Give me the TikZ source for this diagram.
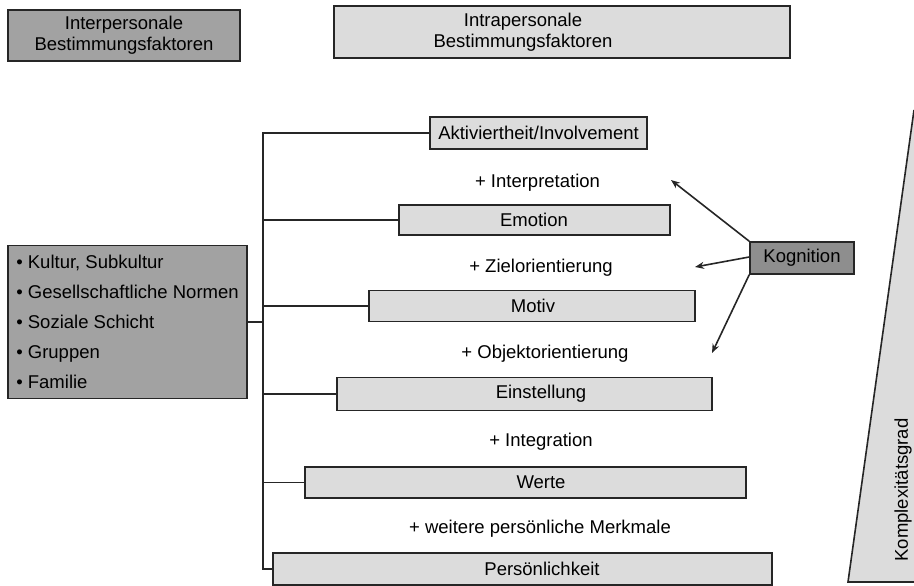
\documentclass[tikz,border=0pt]{standalone}
\usepackage{fontspec}
\setmainfont{Liberation Sans}
\usetikzlibrary{arrows.meta}
\definecolor{darkbox}{HTML}{A2A2A2}
\definecolor{kogbox}{HTML}{8E8E8E}
\definecolor{lightbox}{HTML}{DCDCDC}
\definecolor{edge}{HTML}{262626}
\tikzset{
  every node/.style={font=\fontsize{18.5}{21}\selectfont},
  darkrect/.style={draw=edge, line width=1.6pt, fill=darkbox, inner sep=0pt},
  lightrect/.style={draw=edge, line width=1.6pt, fill=lightbox, inner sep=0pt},
  lbl/.style={inner sep=0pt},
  conn/.style={draw=edge, line width=1.8pt},
  arr/.style={draw=edge, line width=1.6pt, -{Stealth[length=9pt,width=7pt]}}
}
\begin{document}
\begin{tikzpicture}[x=1pt,y=-1pt]
\useasboundingbox (0,0) rectangle (914,586);
% triangle
\path[fill=lightbox] (914,110) -- (848,582) -- (914,582) -- cycle;
\draw[edge, line width=1.6pt] (914,110) -- (848,582) -- (914,582);
\node[lbl, rotate=90] (komp) at (903,490) {Komplexitätsgrad};
% headers
\node[darkrect, minimum width=232pt, minimum height=51pt, align=center] (inter) at (124,35.5) {Interpersonale\\Bestimmungsfaktoren};
\node[lightrect, minimum width=456pt, minimum height=52pt] (intra) at (562,32) {};
\node[lbl, align=center] (intratxt) at (523,32) {Intrapersonale\\Bestimmungsfaktoren};
% left box
\node[darkrect, minimum width=239pt, minimum height=153pt, align=left,
      font=\fontsize{18.5}{30}\selectfont] (kultur) at (127.5,322)
  {\textbullet\ Kultur, Subkultur\\\textbullet\ Gesellschaftliche Normen\\\textbullet\ Soziale Schicht\\\textbullet\ Gruppen\\\textbullet\ Familie};
% stack boxes
\node[lightrect, minimum width=217pt, minimum height=32pt] (akt) at (538.5,133) {Aktiviertheit/Involvement};
\node[lightrect, minimum width=271pt, minimum height=30pt] (emo) at (534.5,220) {};
\node[lbl] (emotxt) at (534,220) {Emotion};
\node[lightrect, minimum width=326pt, minimum height=31pt] (motiv) at (532,306) {};
\node[lbl] (motivtxt) at (533,306) {Motiv};
\node[lightrect, minimum width=375pt, minimum height=33pt] (einst) at (524.5,394) {};
\node[lbl] (einsttxt) at (541,394) {Einstellung};
\node[lightrect, minimum width=441pt, minimum height=31pt] (werte) at (525.5,482.5) {};
\node[lbl] (wertetxt) at (541,482.5) {Werte};
\node[lightrect, minimum width=499pt, minimum height=32pt] (pers) at (522.5,569) {};
\node[lbl] (perstxt) at (542,569) {Persönlichkeit};
% step labels
\node[lbl] (l1) at (537.5,183) {+ Interpretation};
\node[lbl] (l2) at (541,268) {+ Zielorientierung};
\node[lbl] (l3) at (545,354) {+ Objektorientierung};
\node[lbl] (l4) at (541,442) {+ Integration};
\node[lbl] (l5) at (540,529) {+ weitere persönliche Merkmale};
% Kognition
\node[darkrect, fill=kogbox, minimum width=104pt, minimum height=32pt] (kog) at (802,258) {Kognition};
% trunk
\coordinate (tr) at (263,0);
\draw[conn] (akt.west) -| (tr |- pers.west) -- (pers.west);
\draw[conn] (emo.west) -- (tr |- emo.west);
\draw[conn] (motiv.west) -- (tr |- motiv.west);
\draw[conn] (einst.west) -- (tr |- einst.west);
\draw[conn] (werte.west) -- (tr |- werte.west);
\draw[conn] (kultur.east) -- (tr |- kultur.east);
% arrows
\coordinate (a1) at (671,180);
\coordinate (a2) at (695,267);
\coordinate (a3) at (712,353);
\draw[arr] (kog.north west) -- (a1);
\draw[arr] ([yshift=1pt]kog.west) -- (a2);
\draw[arr] (kog.south west) -- (a3);
\end{tikzpicture}
\end{document}
